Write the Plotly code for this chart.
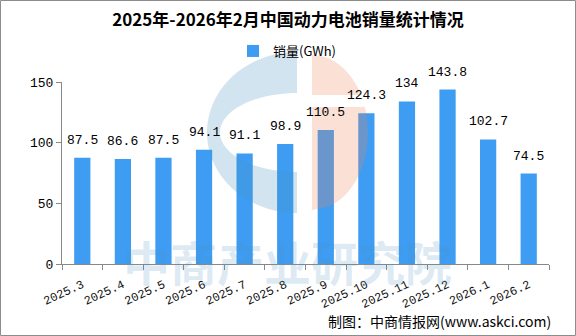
import numpy as np
import plotly.graph_objects as go

categories = ["2025.3", "2025.4", "2025.5", "2025.6", "2025.7", "2025.8",
              "2025.9", "2025.10", "2025.11", "2025.12", "2026.1", "2026.2"]
sales = [87.5, 86.6, 87.5, 94.1, 91.1, 98.9, 110.5, 124.3, 134, 143.8, 102.7, 74.5]
y_ticks = [0, 50, 100, 150]

W, H = 576, 336
L, R, T, B = 62, 549, 82, 264  # plot area in pixels


def px(x):
    return (x - L) / (R - L)


def py(y):
    return (B - y) / (B - T)


def poly(points):
    s = "M " + " L ".join(f"{px(x):.5f},{py(y):.5f}" for x, y in points) + " Z"
    return s


# logo: blue "C"
cx, cy = 297, 132.5
t_out = np.linspace(np.pi / 2, 3 * np.pi / 2, 60)
outer = [(cx + 90 * np.cos(t), cy - 80.5 * np.sin(t)) for t in t_out]
t_in = np.linspace(3 * np.pi / 2, np.pi / 2, 60)
inner = [(cx + 77 * np.cos(t), cy - 39.5 * np.sin(t)) for t in t_in]
blue_c = poly(outer + inner)


# logo: pink half ellipse (split by a thin white gap)
def half_ell(y1, y2, cx2=312, cy2=132.5, rx=56, ry=77.5):
    ys = np.linspace(y1, y2, 40)
    pts = []
    for y in ys:
        v = max(0.0, 1 - ((y - cy2) / ry) ** 2)
        pts.append((cx2 + rx * np.sqrt(v), y))
    pts += [(cx2, y2), (cx2, y1)]
    return poly(pts)


pink1 = half_ell(55, 95)
pink2 = half_ell(107, 210)

fig = go.Figure()
fig.add_trace(go.Bar(
    x=categories, y=sales, name="销量(GWh)",
    marker=dict(color="#3E9CF2", line=dict(width=0)),
    width=0.4,
))

annotations = []
for i, v in enumerate(sales):
    annotations.append(dict(
        x=i, y=v, xref="x", yref="y", text=f"{v:g}", showarrow=False, yanchor="bottom",
        yshift=8, font=dict(family="Liberation Mono", size=13, color="#000"),
    ))

annotations.append(dict(
    x=px(287), y=py(260), xref="paper", yref="paper", text="<b>中商产业研究院</b>",
    showarrow=False, xanchor="center", yanchor="middle",
    font=dict(family="Noto Sans CJK SC", size=47, color="rgba(75,147,191,0.20)"),
))
annotations.append(dict(
    x=px(553), y=py(321), xref="paper", yref="paper", xanchor="right", yanchor="middle",
    text="制图：中商情报网(www.askci.com)", showarrow=False,
    font=dict(family="Noto Sans CJK SC", size=14, color="#000"),
))

shapes = [
    dict(type="path", path=blue_c, xref="paper", yref="paper",
         fillcolor="rgba(75,147,191,0.25)", line=dict(width=0), layer="above"),
    dict(type="path", path=pink1, xref="paper", yref="paper",
         fillcolor="rgba(239,131,91,0.25)", line=dict(width=0), layer="above"),
    dict(type="path", path=pink2, xref="paper", yref="paper",
         fillcolor="rgba(239,131,91,0.25)", line=dict(width=0), layer="above"),
    dict(type="rect", xref="paper", yref="paper",
         x0=px(0.5), x1=px(575.5), y0=py(335.5), y1=py(0.5),
         line=dict(color="#8c8c8c", width=1), fillcolor="rgba(0,0,0,0)", layer="above"),
]

fig.update_layout(
    width=W, height=H,
    margin=dict(l=L, r=W - R, t=T, b=H - B, pad=0),
    paper_bgcolor="white", plot_bgcolor="rgba(0,0,0,0)",
    title=dict(text="<b>2025年-2026年2月中国动力电池销量统计情况</b>",
               x=0.5, xanchor="center", y=1 - 20 / H, yanchor="middle",
               font=dict(family="Noto Sans CJK SC", size=17, color="#000")),
    showlegend=True,
    legend=dict(orientation="h", x=px(287), xanchor="center", y=py(51), yanchor="middle",
                font=dict(family="Noto Sans CJK SC", size=13, color="#000"),
                bgcolor="rgba(0,0,0,0)", itemwidth=30),
    xaxis=dict(type="category", categoryorder="array", categoryarray=categories,
               range=[-0.5, len(categories) - 0.5],
               tickson="boundaries", ticks="outside", ticklen=5,
               tickcolor="#888", showline=True, linecolor="#888", linewidth=1,
               showgrid=False, tickangle=-25, ticklabelstandoff=8,
               tickfont=dict(family="Liberation Mono", size=12, color="#111")),
    yaxis=dict(range=[0, 150], tickvals=y_ticks, ticks="outside", ticklen=5,
               tickcolor="#888", showline=True, linecolor="#888", linewidth=1,
               showgrid=False, zeroline=False,
               tickfont=dict(family="Liberation Mono", size=13, color="#000")),
    annotations=annotations,
    shapes=shapes,
)

fig.write_html("out.html")
